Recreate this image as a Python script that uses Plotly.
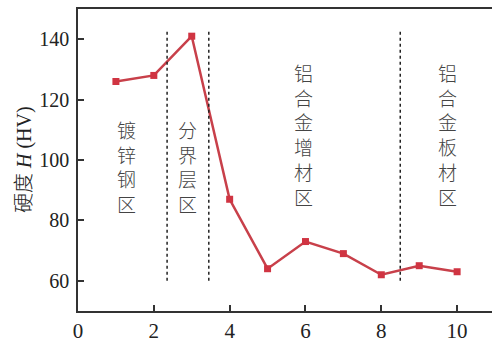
import plotly.graph_objects as go

positions = [1, 2, 3, 4, 5, 6, 7, 8, 9, 10]
hardness = [126, 128, 141, 87, 64, 73, 69, 62, 65, 63]
x_ticks = [0, 2, 4, 6, 8, 10]
y_ticks = [60, 80, 100, 120, 140]
boundaries = [2.35, 3.45, 8.5]
region_labels = ["镀锌钢区", "分界层区", "铝合金增材区", "铝合金板材区"]
region_x = [1.27, 2.9, 5.96, 9.74]
region_y = [97.7, 97.7, 108.6, 108.6]

serif = "Liberation Serif"
cjk = "Noto Sans CJK SC"

fig = go.Figure()
fig.add_trace(go.Scatter(
    x=positions, y=hardness, mode="lines+markers",
    line=dict(color="#c8404a", width=2.5),
    marker=dict(symbol="square", size=7, color="#d03442"),
    showlegend=False,
))

for b in boundaries:
    fig.add_shape(type="line", x0=b, x1=b, y0=60, y1=143, xref="x", yref="y",
                  line=dict(color="#222", width=1.5, dash="dot"))

for lab, xx, yy in zip(region_labels, region_x, region_y):
    fig.add_annotation(x=xx, y=yy, xref="x", yref="y", text="<br>".join(lab),
                       showarrow=False, font=dict(family=cjk, size=19, color="#444", weight=300),
                       align="center")

fig.add_annotation(xref="paper", yref="paper", x=(22 - 78) / 414, y=0.5,
                   text="<span style='font-family:Noto Sans CJK SC;font-weight:300'>硬度</span> <i>H</i> (HV)",
                   textangle=-90, showarrow=False,
                   font=dict(family=serif, size=20, color="#222"),
                   xanchor="center", yanchor="middle")

fig.update_layout(
    width=492, height=343,
    margin=dict(l=78, r=0, t=9, b=32),
    plot_bgcolor="white", paper_bgcolor="white",
    font=dict(family=serif),
    xaxis=dict(range=[0, 10.92], tickvals=x_ticks, ticks="inside", ticklen=6,
               tickcolor="#333", tickwidth=1.5, showline=True, linecolor="#333",
               linewidth=1.5, mirror=True, showgrid=False, zeroline=False,
               tickfont=dict(family=serif, size=21, color="#222")),
    yaxis=dict(range=[50, 150], tickvals=y_ticks, ticks="inside", ticklen=6,
               tickcolor="#333", tickwidth=1.5, showline=True, linecolor="#333",
               linewidth=1.5, showgrid=False, zeroline=False, ticklabelstandoff=3,
               tickfont=dict(family=serif, size=20, color="#222")),
)

fig.write_html("out.html")
